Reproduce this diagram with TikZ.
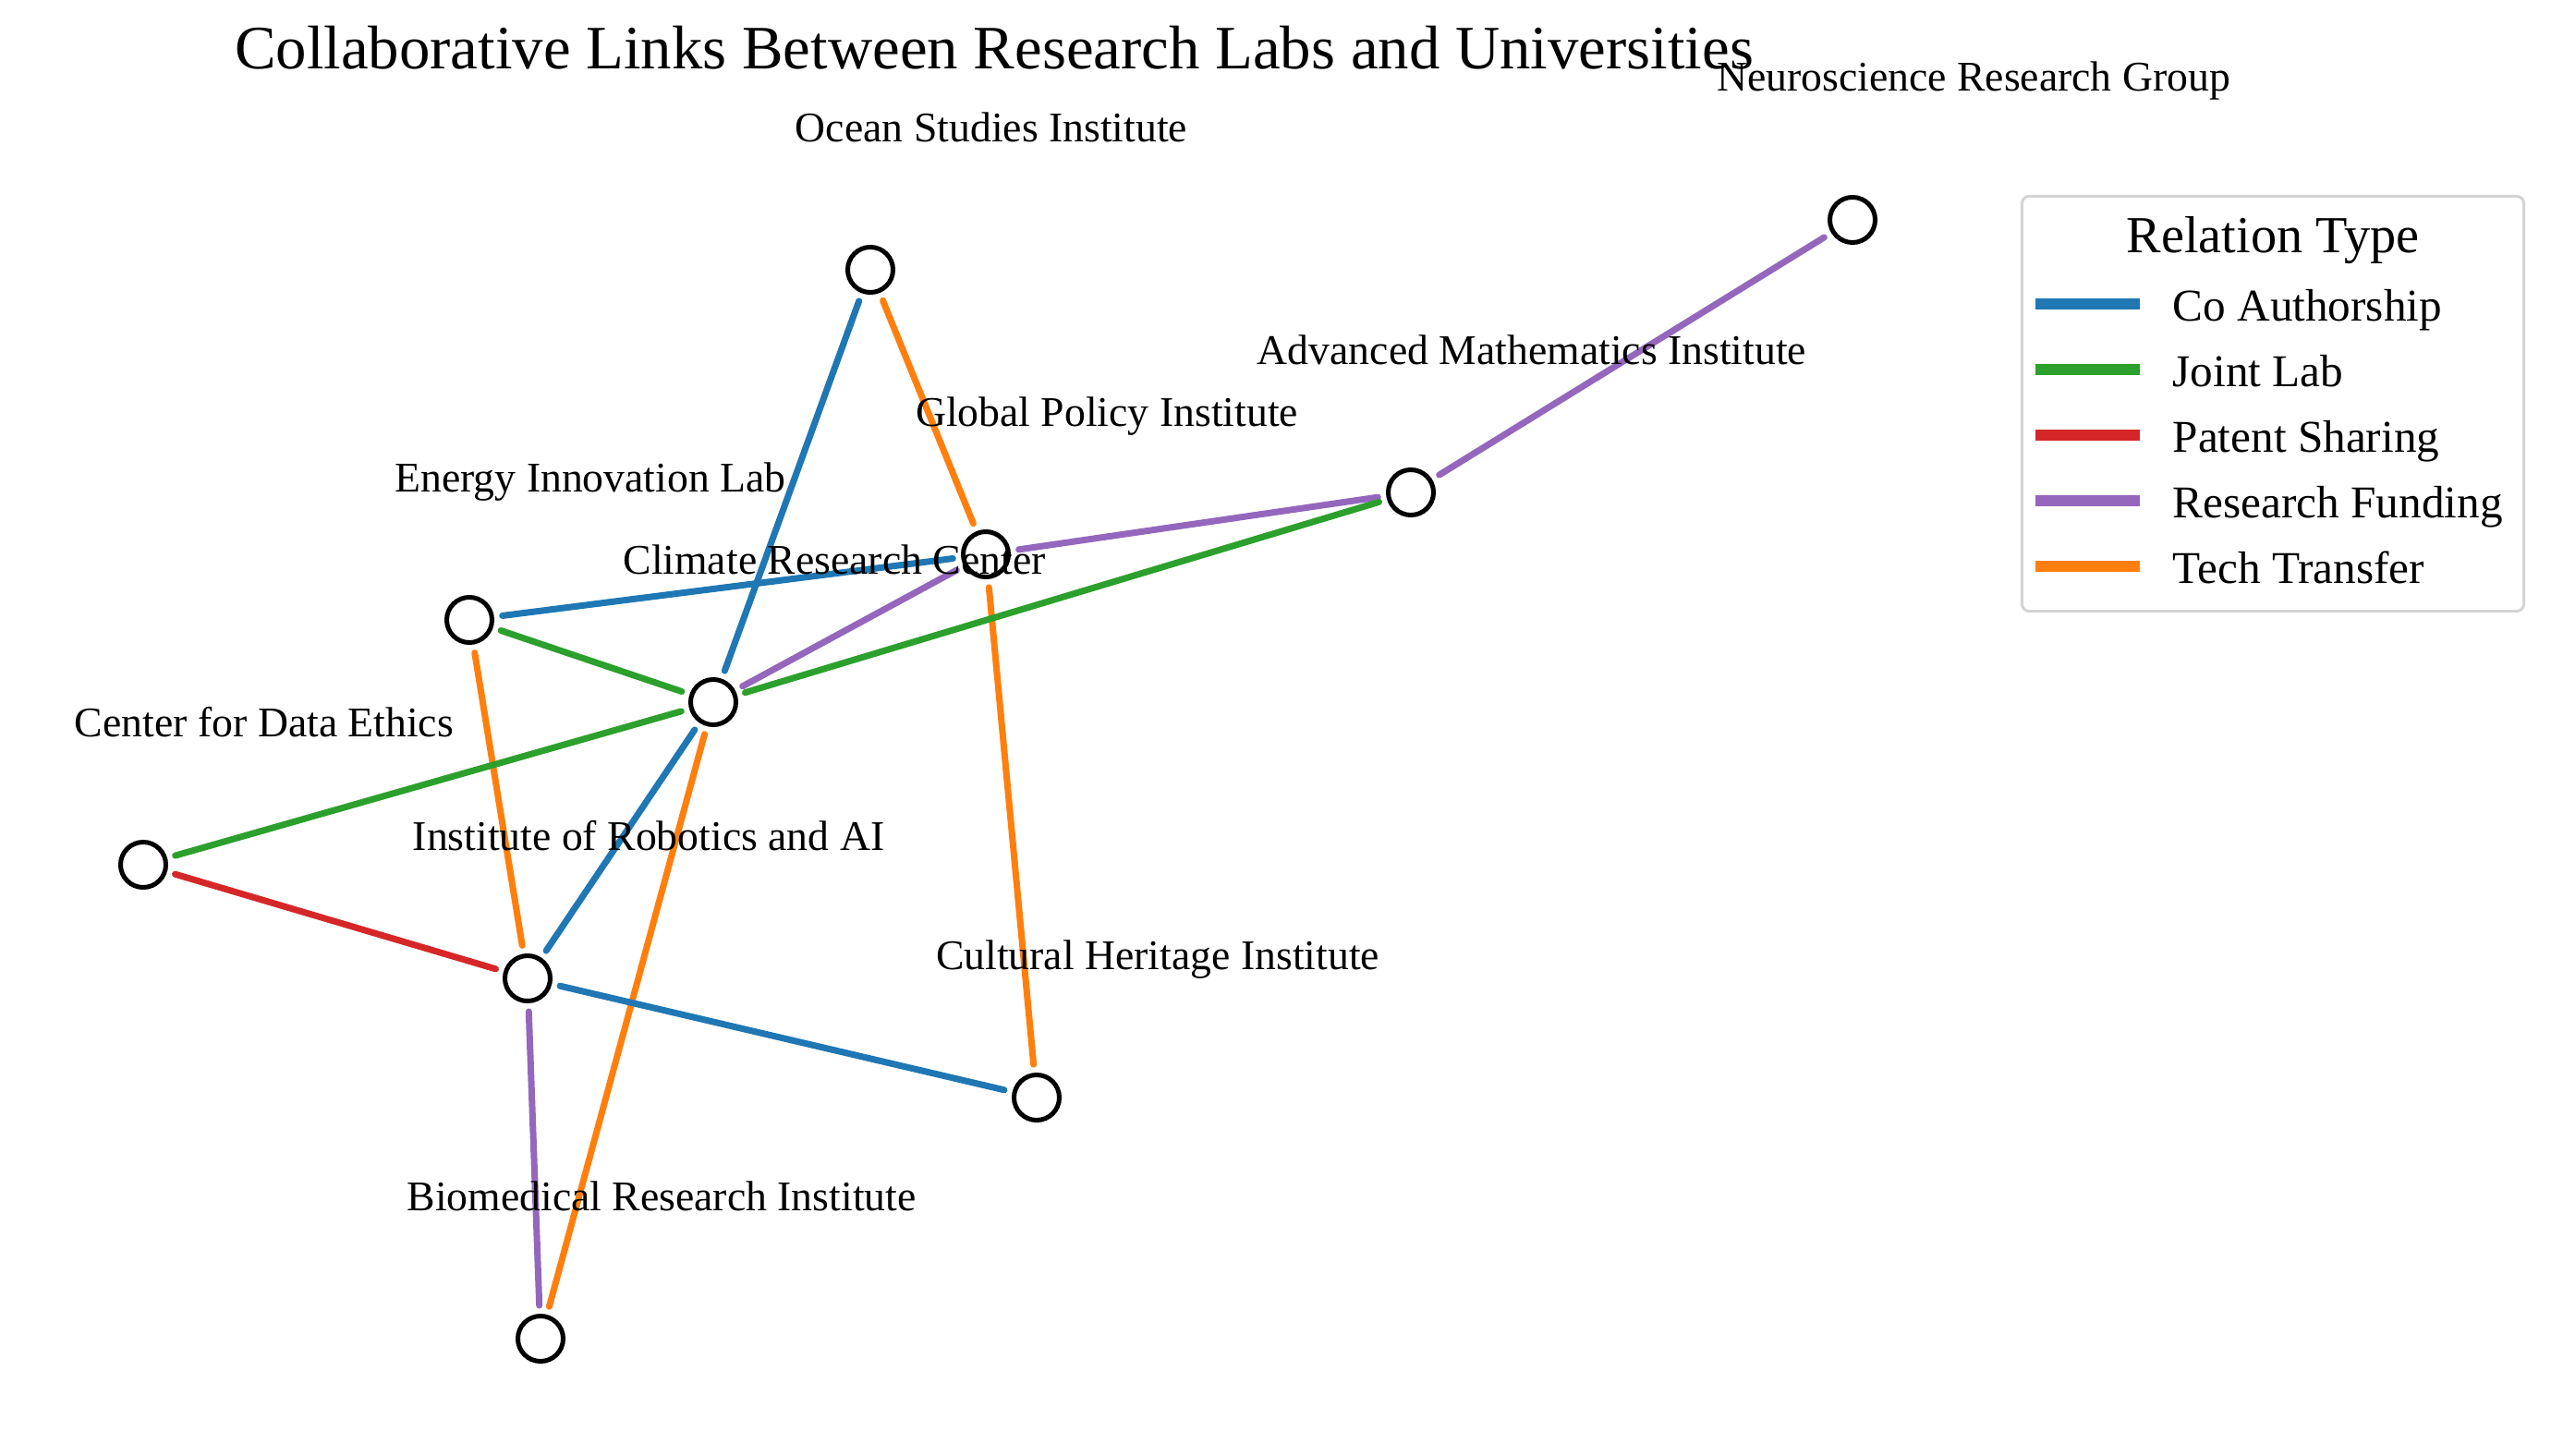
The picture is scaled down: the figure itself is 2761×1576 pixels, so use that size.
\documentclass[tikz,border=0pt]{standalone}
\usepackage{fontspec}
\setmainfont{Liberation Serif}
\usepackage{tikz}
\usetikzlibrary{positioning}
\definecolor{coauth}{HTML}{1F77B4}
\definecolor{jointlab}{HTML}{2CA02C}
\definecolor{patent}{HTML}{D62728}
\definecolor{funding}{HTML}{9467BD}
\definecolor{transfer}{HTML}{FF7F0E}

\begin{document}
\begin{tikzpicture}[
  x=0.01cm, y=-0.01cm,
  inst/.style={circle, draw=black, line width=0.05cm, fill=white, minimum size=0.49cm, inner sep=0pt},
  lbl/.style={anchor=base, inner sep=0pt, font=\fontsize{13}{15}\selectfont},
  link/.style={line width=0.07cm, line cap=round, shorten >=0.09cm, shorten <=0.09cm},
  key/.style={line width=0.12cm},
  keytxt/.style={anchor=base west, inner sep=0pt, font=\fontsize{14}{16}\selectfont},
]
  \useasboundingbox (0,0) rectangle (2761,1576);

  \node[anchor=base, inner sep=0pt, font=\fontsize{19}{23}\selectfont] (title) at (1076,75)
    {Collaborative Links Between Research Labs and Universities};

  % institutions
  \node[inst] (ocean) at (942,292) {};
  \node[inst] (neuro) at (2005,238) {};
  \node[inst] (math) at (1527,533) {};
  \node[inst] (policy) at (1067,600) {};
  \node[inst] (energy) at (508,671) {};
  \node[inst] (climate) at (772,760) {};
  \node[inst] (ethics) at (155,936) {};
  \node[inst] (robotics) at (571,1059) {};
  \node[inst] (heritage) at (1122,1188) {};
  \node[inst] (biomed) at (585,1449) {};

  % links
  \draw[link, coauth] (ocean) -- (climate);
  \draw[link, transfer] (ocean) -- (policy);
  \draw[link, coauth] (energy) -- (policy);
  \draw[link, funding] (climate) -- (policy);
  \draw[link, funding] (policy) -- (math);
  \draw[link, transfer] (policy) -- (heritage);
  \draw[link, funding] (math) -- (neuro);
  \draw[link, jointlab] (climate) -- (math);
  \draw[link, jointlab] (energy) -- (climate);
  \draw[link, transfer] (energy) -- (robotics);
  \draw[link, jointlab] (ethics) -- (climate);
  \draw[link, coauth] (robotics) -- (climate);
  \draw[link, transfer] (biomed) -- (climate);
  \draw[link, patent] (ethics) -- (robotics);
  \draw[link, coauth] (robotics) -- (heritage);
  \draw[link, funding] (robotics) -- (biomed);

  % names, set above right of each node
  \path (ocean) ++(131,-139) node[lbl] (ocean-l) {Ocean Studies Institute};
  \path (neuro) ++(131,-139) node[lbl] (neuro-l) {Neuroscience Research Group};
  \path (math) ++(131,-139) node[lbl] (math-l) {Advanced Mathematics Institute};
  \path (policy) ++(131,-139) node[lbl] (policy-l) {Global Policy Institute};
  \path (energy) ++(131,-139) node[lbl] (energy-l) {Energy Innovation Lab};
  \path (climate) ++(131,-139) node[lbl] (climate-l) {Climate Research Center};
  \path (ethics) ++(131,-139) node[lbl] (ethics-l) {Center for Data Ethics};
  \path (robotics) ++(131,-139) node[lbl] (robotics-l) {Institute of Robotics and AI};
  \path (heritage) ++(131,-139) node[lbl] (heritage-l) {Cultural Heritage Institute};
  \path (biomed) ++(131,-139) node[lbl] (biomed-l) {Biomedical Research Institute};

  % legend
  \node[draw=black!17, line width=0.03cm, rounded corners=0.08cm, fill=white,
    minimum width=5.43cm, minimum height=4.49cm] (legend) at (2460,437) {};
  \node[anchor=base, inner sep=0pt, font=\fontsize{16}{19}\selectfont] (legend-t) at (2460,274) {Relation Type};
  \foreach \i/\yy/\c/\t in {1/329/coauth/Co Authorship, 2/400/jointlab/Joint Lab,
      3/471/patent/Patent Sharing, 4/542/funding/Research Funding, 5/613/transfer/Tech Transfer} {
    \draw[key, \c] (2203,\yy) -- (2316,\yy);
    \node[keytxt] (key-\i) at (2351,\yy+18) {\t};
  }
\end{tikzpicture}
\end{document}
